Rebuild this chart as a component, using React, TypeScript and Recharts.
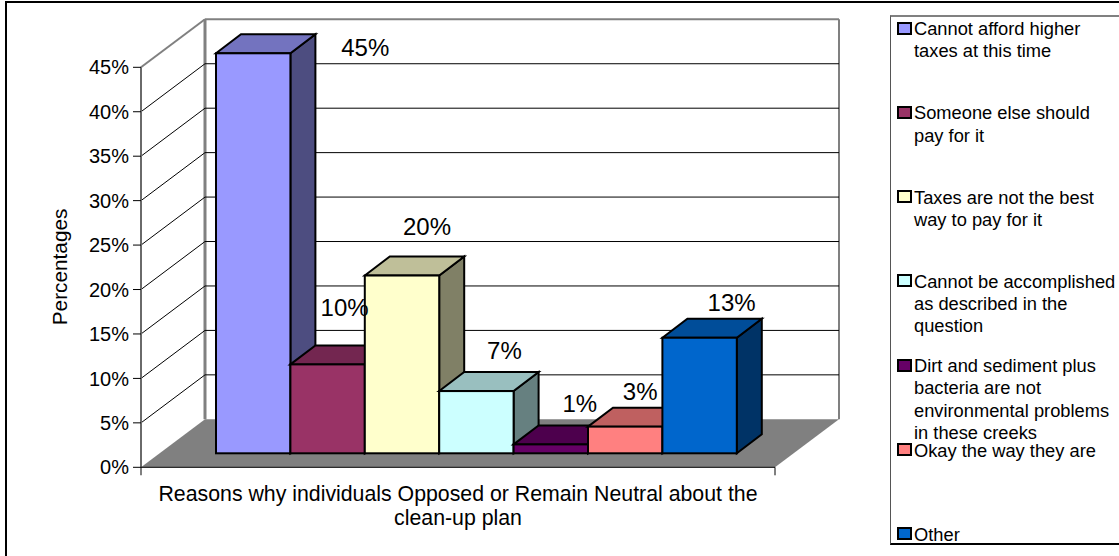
import { Bar, BarChart, CartesianGrid, LabelList, Legend, XAxis, YAxis } from "recharts";

const categoryTitleLines = ["Reasons why individuals Opposed or Remain Neutral about the", "clean-up plan"];
const yAxisTitle = "Percentages";

const seriesNames = [
  "Cannot afford higher taxes at this time",
  "Someone else should pay for it",
  "Taxes are not the best way to pay for it",
  "Cannot be accomplished as described in the question",
  "Dirt and sediment plus bacteria are not environmental problems in these creeks",
  "Okay the way they are",
  "Other",
];
const seriesValues = [45, 10, 20, 7, 1, 3, 13];
const yTicks = [0, 5, 10, 15, 20, 25, 30, 35, 40, 45];

const frontColors = ["#9999FF", "#993366", "#FFFFCC", "#CCFFFF", "#660066", "#FF8080", "#0066CC"];
const topColors = ["#7373BF", "#732650", "#BFBF99", "#99BFBF", "#4D004D", "#BF6060", "#004D99"];
const sideColors = ["#4D4D80", "#4D1A33", "#808066", "#668080", "#330033", "#804040", "#003366"];

// hand-placed data labels, relative to the bar centre and value height
const labelNudgeX = [112, 17, 25, 28, 29, 15, 32];
const labelNudgeY = [-20, -71, -63, -55, -55, -49, -49];

const chartRows = [
  Object.fromEntries([
    ["category", categoryTitleLines.join(" ")],
    ...seriesNames.map((name, i) => [name, seriesValues[i]]),
  ]),
];

const WIDTH = 1119;
const HEIGHT = 556;
const PLOT_LEFT = 141;
const PLOT_RIGHT = 775;
const PLOT_TOP = 67.3;
const PLOT_BOTTOM = 467.3;
const BAR_WIDTH = 74.4;
const FONT = '"Liberation Sans", Arial, sans-serif';

// oblique projection of the box: full floor depth, and where the bars sit in it
const WALL_DX = 64;
const WALL_DY = -48;
const BAR_FRONT_DX = 19;
const BAR_FRONT_DY = -14;
const BAR_DEPTH_DX = 25;
const BAR_DEPTH_DY = -19;

const WALL_EDGE = "#808080";

function DepthGridLine(props: any) {
  const { x1, x2, y1 } = props;
  const isFloor = Math.abs(y1 - PLOT_BOTTOM) < 1;
  const isTop = Math.abs(y1 - PLOT_TOP) < 1;
  const backLeft = x1 + WALL_DX;
  const backRight = x2 + WALL_DX;
  const backY = y1 + WALL_DY;

  if (isFloor) {
    return (
      <g key={props.key}>
        <line x1={backLeft} y1={PLOT_TOP + WALL_DY} x2={backLeft} y2={backY} stroke={WALL_EDGE} strokeWidth={3} />
        <line x1={backRight} y1={PLOT_TOP + WALL_DY} x2={backRight} y2={backY} stroke={WALL_EDGE} strokeWidth={2} />
        <polygon
          points={`${x1},${y1} ${backLeft},${backY} ${backRight},${backY} ${x2},${y1}`}
          fill={WALL_EDGE}
        />
        <line x1={x1} y1={y1} x2={x1} y2={y1 + 8} stroke={WALL_EDGE} strokeWidth={2} />
        <line x1={x2} y1={y1} x2={x2} y2={y1 + 8} stroke="#000" />
      </g>
    );
  }
  const edge = isTop ? WALL_EDGE : "#000";
  const weight = isTop ? 2 : 1;
  return (
    <g key={props.key}>
      <line x1={x1} y1={y1} x2={backLeft} y2={backY} stroke={edge} strokeWidth={weight} />
      <line x1={backLeft} y1={backY} x2={backRight} y2={backY} stroke={edge} strokeWidth={weight} />
    </g>
  );
}

function boxShape(seriesIndex: number) {
  return function Box(props: any) {
    const { x, y, width, height } = props;
    const left = x + BAR_FRONT_DX;
    const right = left + width;
    const top = y + BAR_FRONT_DY;
    const bottom = top + height;
    const dx = BAR_DEPTH_DX;
    const dy = BAR_DEPTH_DY;
    const outline = { stroke: "#000", strokeWidth: 2, strokeLinejoin: "miter" as const };
    return (
      <g>
        <polygon
          points={`${right},${top} ${right + dx},${top + dy} ${right + dx},${bottom + dy} ${right},${bottom}`}
          fill={sideColors[seriesIndex]}
          {...outline}
        />
        <polygon
          points={`${left},${top} ${left + dx},${top + dy} ${right + dx},${top + dy} ${right},${top}`}
          fill={topColors[seriesIndex]}
          {...outline}
        />
        <rect x={left} y={top} width={width} height={height} fill={frontColors[seriesIndex]} {...outline} />
      </g>
    );
  };
}

function valueLabel(seriesIndex: number) {
  return function ValueLabel(props: any) {
    const { x, y, width, value } = props;
    return (
      <text
        x={x + BAR_FRONT_DX + width / 2 + labelNudgeX[seriesIndex]}
        y={y + labelNudgeY[seriesIndex]}
        textAnchor="middle"
        dominantBaseline="central"
        fontSize={24}
        fill="#000"
      >
        {value}%
      </text>
    );
  };
}

// the axis has one category; its name is centred under the floor, on two lines
function CategoryTick(props: any) {
  const { y } = props;
  const centre = (PLOT_LEFT + PLOT_RIGHT) / 2;
  return (
    <text x={centre} y={y + 26} textAnchor="middle" fontSize={21.3} fill="#000">
      {categoryTitleLines.map((line, i) => (
        <tspan key={line} x={centre} dy={i === 0 ? 0 : 24}>
          {line}
        </tspan>
      ))}
    </text>
  );
}

function BoxedLegend({ payload }: any) {
  return (
    <div
      style={{
        position: "relative",
        width: 260,
        height: 530,
        boxSizing: "border-box",
        borderLeft: "1px solid #555",
        borderTop: "2px solid #808080",
        borderBottom: "2px solid #000",
        textAlign: "left",
      }}
    >
      {(payload ?? []).map((entry: any, i: number) => (
        <div key={entry.value} style={{ position: "absolute", left: 6, top: 1 + i * 84.3, width: 230 }}>
          <span
            style={{
              position: "absolute",
              left: 0,
              top: 3.5,
              width: 11,
              height: 9,
              border: "2px solid #000",
              background: entry.color,
            }}
          />
          <div style={{ marginLeft: 17, width: 206, fontSize: 18.3, lineHeight: "22.2px", color: "#000" }}>
            {entry.value}
          </div>
        </div>
      ))}
    </div>
  );
}

export default function App() {
  return (
    <div
      style={{
        position: "absolute",
        left: 0,
        top: 0,
        width: WIDTH,
        height: HEIGHT,
        overflow: "hidden",
        background: "#fff",
        fontFamily: FONT,
      }}
    >
      <BarChart
        width={WIDTH}
        height={HEIGHT}
        data={chartRows}
        margin={{ top: PLOT_TOP, right: WIDTH - PLOT_RIGHT, left: 0, bottom: 0 }}
        barCategoryGap={0}
        barGap={0}
        barSize={BAR_WIDTH}
      >
        <CartesianGrid vertical={false} horizontal={DepthGridLine as any} />
        <YAxis
          width={PLOT_LEFT}
          domain={[0, 45]}
          ticks={yTicks}
          interval={0}
          tickFormatter={(v: number) => `${v}%`}
          tick={{ fontSize: 20, fill: "#000" }}
          tickSize={8}
          tickMargin={4}
          tickLine={{ stroke: "#000" }}
          axisLine={{ stroke: "#6a6a6a", strokeWidth: 2 }}
          label={{ value: yAxisTitle, angle: -90, fontSize: 20.8, fill: "#000", position: "insideLeft", offset: 60, dy: 58 }}
        />
        <XAxis
          dataKey="category"
          height={HEIGHT - PLOT_BOTTOM}
          padding={{ left: 56, right: 57 }}
          tickLine={false}
          axisLine={{ stroke: "#000" }}
          interval={0}
          tick={<CategoryTick />}
        />
        <Legend
          layout="horizontal"
          verticalAlign="middle"
          itemSorter={null}
          content={<BoxedLegend />}
          wrapperStyle={{ position: "absolute", left: 890, top: 15, width: 260, height: 530 }}
        />
        {seriesNames.map((name, i) => (
          <Bar
            key={name}
            dataKey={name}
            name={name}
            fill={frontColors[i]}
            isAnimationActive={false}
            shape={boxShape(i)}
          >
            <LabelList dataKey={name} content={valueLabel(i)} />
          </Bar>
        ))}
      </BarChart>
      <div
        style={{
          position: "absolute",
          left: 5,
          top: 1,
          width: WIDTH,
          height: HEIGHT,
          borderLeft: "2px solid #000",
          borderTop: "2px solid #000",
          pointerEvents: "none",
        }}
      />
    </div>
  );
}
